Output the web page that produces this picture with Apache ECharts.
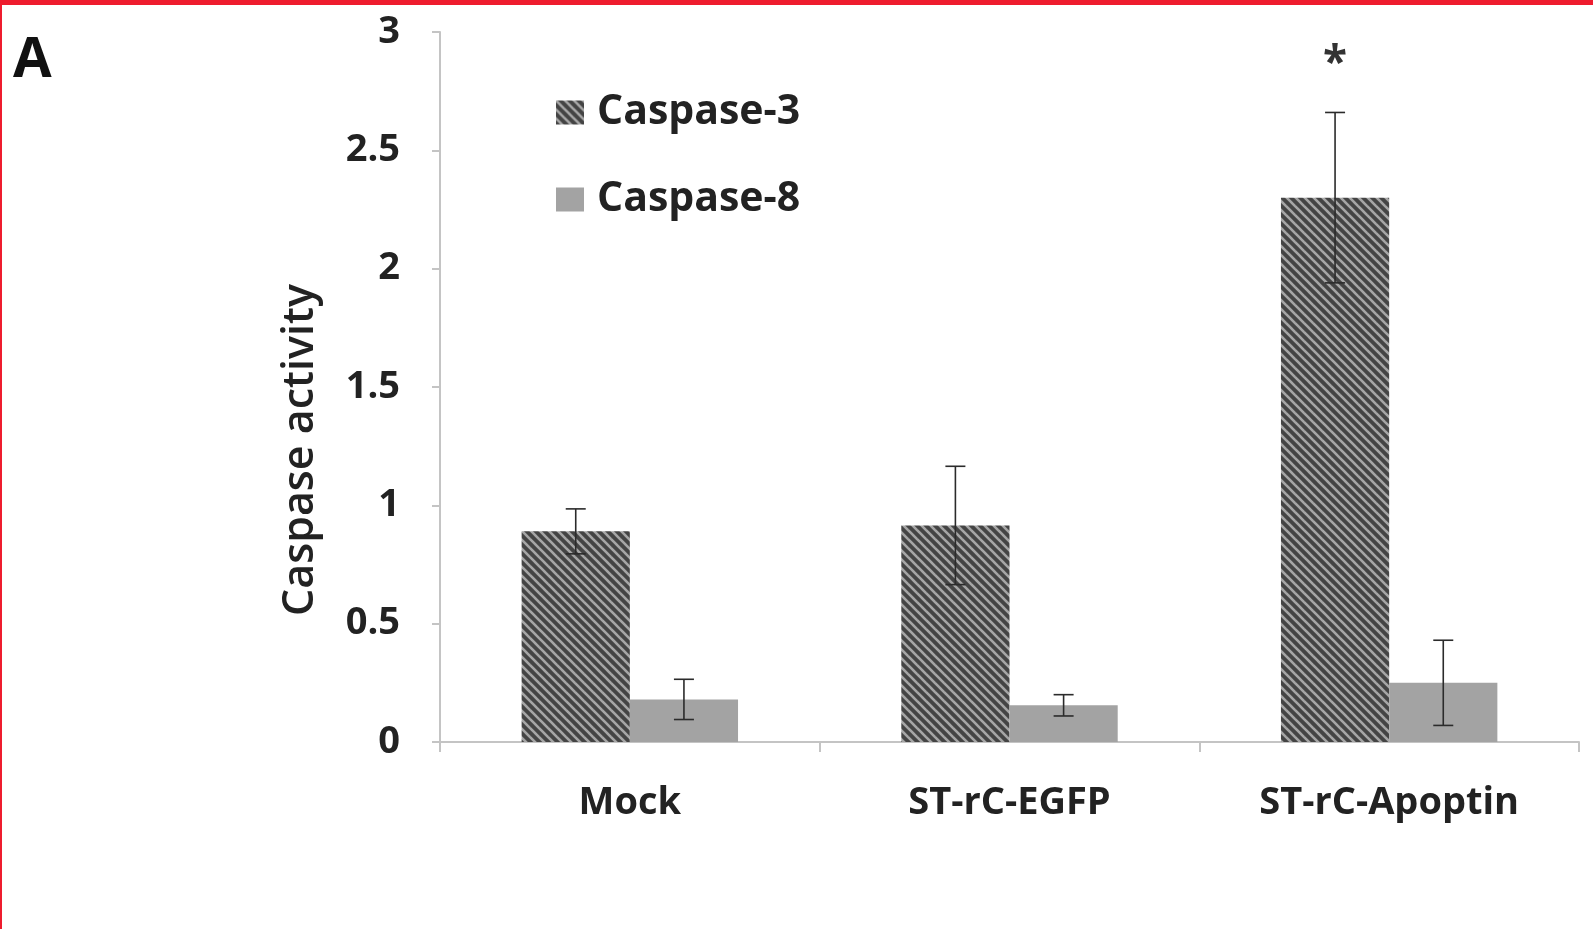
<!DOCTYPE html>
<html>
<head>
<meta charset="utf-8">
<script src="https://cdn.jsdelivr.net/npm/echarts@6/dist/echarts.min.js"></script>
<style>
html,body{margin:0;padding:0;background:#fff;}
#chart{width:1593px;height:929px;}
</style>
</head>
<body>
<div id="chart"></div>
<script>
const categories = ['Mock', 'ST-rC-EGFP', 'ST-rC-Apoptin'];
const seriesNames = ['Caspase-3', 'Caspase-8'];
const caspase3 = [0.89, 0.915, 2.30];
const caspase3Err = [0.095, 0.25, 0.36];
const caspase8 = [0.18, 0.155, 0.25];
const caspase8Err = [0.085, 0.045, 0.18];
const significance = ['', '', '*'];
const yTicks = [0, 0.5, 1, 1.5, 2, 2.5, 3];
const yTitle = 'Caspase activity';

function hatch() {
  const s = 9;
  const c = document.createElement('canvas');
  c.width = s; c.height = s;
  const g = c.getContext('2d');
  g.fillStyle = '#444444';
  g.fillRect(0, 0, s, s);
  g.strokeStyle = '#a6a6a6';
  g.lineWidth = 2.6;
  for (let k = -1; k <= 1; k++) {
    g.beginPath();
    g.moveTo(-2, -2 + k * s);
    g.lineTo(s + 2, s + 2 + k * s);
    g.stroke();
  }
  return c;
}
const hatchFill = { image: hatch(), repeat: 'repeat' };

const chart = echarts.init(document.getElementById('chart'));
const font = '"Open Sans"';
const barCatGap = 0.43;

function errSeries(idx, vals, errs, sig) {
  return {
    type: 'custom',
    name: 'err' + idx,
    z: 5,
    silent: true,
    data: vals.map((v, i) => [i, v, errs[i]]),
    renderItem: function (params, api) {
      const i = api.value(0), v = api.value(1), e = api.value(2);
      const catW = api.size([1, 0])[0];
      const barW = catW * (1 - barCatGap) / 2;
      const c = api.coord([i, v]);
      const x = c[0] + (idx === 0 ? -0.5 : 0.5) * barW;
      const yTop = api.coord([i, v + e])[1];
      const yBot = api.coord([i, v - e])[1];
      const cap = 10;
      const st = { stroke: '#2b2b2b', lineWidth: 1.6 };
      const children = [
        { type: 'line', shape: { x1: x, y1: yTop, x2: x, y2: yBot }, style: st },
        { type: 'line', shape: { x1: x - cap, y1: yTop, x2: x + cap, y2: yTop }, style: st },
        { type: 'line', shape: { x1: x - cap, y1: yBot, x2: x + cap, y2: yBot }, style: st }
      ];
      const s = sig ? sig[params.dataIndex] : '';
      if (s) {
        children.push({
          type: 'text',
          style: { text: s, x: x, y: yTop - 48, align: 'center', verticalAlign: 'middle',
                   font: 'bold 44px ' + font, fill: '#333' }
        });
      }
      return { type: 'group', children: children };
    }
  };
}

chart.setOption({
  animation: false,
  backgroundColor: '#fff',
  grid: { left: 440, right: 14, top: 32, bottom: 187 },
  legend: {
    data: seriesNames,
    orient: 'vertical',
    left: 551,
    top: 87,
    itemWidth: 28,
    itemHeight: 24,
    itemGap: 46,
    icon: 'rect',
    textStyle: { fontFamily: font, fontWeight: 'bold', fontSize: 41, color: '#222', padding: [0, 0, 0, 8] }
  },
  xAxis: {
    type: 'category',
    data: categories,
    axisLine: { lineStyle: { color: '#c4c4c4', width: 2 } },
    axisTick: { show: true, length: 10, lineStyle: { color: '#c4c4c4', width: 2 } },
    axisLabel: { fontFamily: font, fontWeight: 'bold', fontSize: 38, color: '#222', margin: 42 }
  },
  yAxis: {
    type: 'value',
    min: 0, max: 3, interval: 0.5,
    splitLine: { show: false },
    axisLine: { show: true, lineStyle: { color: '#c4c4c4', width: 2 } },
    axisTick: { show: true, length: 8, lineStyle: { color: '#c4c4c4', width: 2 } },
    axisLabel: { fontFamily: font, fontWeight: 'bold', fontSize: 38, color: '#222', margin: 40,
                 formatter: v => yTicks.indexOf(v) >= 0 ? String(v) : '' }
  },
  graphic: [
    { type: 'rect', left: 0, top: 0, shape: { width: 1593, height: 5 }, style: { fill: '#ee1c2e' }, z: 100 },
    { type: 'rect', left: 0, top: 0, shape: { width: 2, height: 929 }, style: { fill: '#ee1c2e' }, z: 100 },
    { type: 'text', left: 13, top: 33, style: { text: 'A', font: 'bold 56px ' + font, fill: '#111' } },
    { type: 'text', x: 301, y: 450, rotation: Math.PI / 2,
      style: { text: yTitle, font: '600 43px ' + font, fill: '#222', align: 'center', verticalAlign: 'middle' } }
  ],
  series: [
    { type: 'bar', name: seriesNames[0], data: caspase3, barGap: '0%', barCategoryGap: '43%',
      itemStyle: { color: hatchFill } },
    { type: 'bar', name: seriesNames[1], data: caspase8, barGap: '0%', barCategoryGap: '43%',
      itemStyle: { color: '#a3a3a3' } },
    errSeries(0, caspase3, caspase3Err, significance),
    errSeries(1, caspase8, caspase8Err, null)
  ]
});
</script>
</body>
</html>
